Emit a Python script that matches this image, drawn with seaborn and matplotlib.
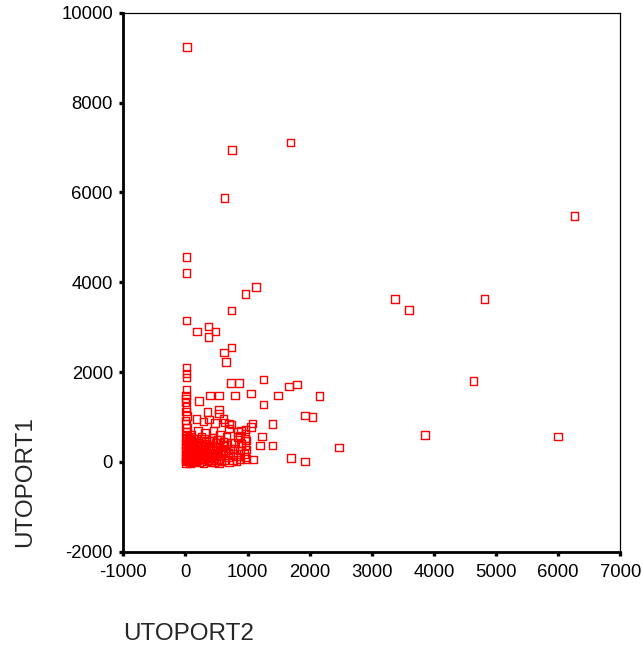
import matplotlib
matplotlib.use("Agg")
import matplotlib.pyplot as plt
import seaborn as sns
import pandas as pd

# UTOPORT2 (x) and UTOPORT1 (y) values, grouped by region of the scatter
x_far = [20, 1688, 744, 625, 6264, 3369, 3594, 4812, 4635, 2160, 3857, 2470, 5993]
y_far = [9240, 7110, 6940, 5875, 5474, 3620, 3375, 3620, 1795, 1470, 605, 323, 568]

x_mid = [13, 13, 1140, 969, 738, 13, 368, 190, 480, 368, 738, 620, 652]
y_mid = [4560, 4205, 3893, 3731, 3374, 3144, 3011, 2899, 2899, 2780, 2543, 2432, 2223]

x_upper = [13, 13, 13, 13, 733, 857, 1253, 1662, 1800, 395, 535, 797, 1055, 1485]
y_upper = [2098, 1965, 1880, 1608, 1755, 1755, 1831, 1675, 1719, 1474, 1474, 1474, 1519, 1474]

x_spread = [222, 1259, 535, 535, 357, 1924, 2042, 1404, 1082, 625, 738, 969, 1227, 1200,
            1398, 1694, 1924, 1087, 974, 974, 877, 877, 877, 963, 963, 963, 889, 889]
y_spread = [1354, 1274, 1163, 1073, 1109, 1036, 998, 842, 851, 873, 835, 724, 568, 361,
            361, 85, 11, 49, 479, 272, 590, 256, 49, 628, 368, 107, 702, 405]

x_zero = [5, 10, 0, 15, 5, 20, 0, 10, 25, 5, 15, 0, 20, 10, 5, 30, 0, 15, 10, 25, 5, 20, 0, 10]
y_zero = [1480, 1414, 1330, 1220, 1125, 1015, 925, 840, 760, 680, 600, 530, 460, 400, 340,
          290, 240, 190, 150, 110, 70, 40, 10, -20]

x_block = [60, 80, 100, 55, 90, 70, 110, 50, 95, 75, 120, 130, 65, 105, 85, 140, 150, 160,
           45, 125, 115, 70]
y_block = [500, 420, 350, 280, 210, 140, 80, 20, -10, 560, 300, 380, 170, 30, 600, 450, 220,
           60, 330, 110, 250, -30]

x_cluster = [180, 287, 383, 475, 610, 206, 314, 448, 556, 663, 850, 850, 958, 700, 1055, 700,
             200, 240, 280, 320, 360, 400, 440, 480, 520, 560, 600, 640, 680, 720, 760, 800,
             840, 900, 940, 980,
             250, 300, 350, 420, 470, 530, 580, 620, 700, 760, 820, 230, 270, 330, 380, 460,
             500, 550, 600, 650, 690, 740, 780,
             515, 450, 380, 300, 260, 560, 610, 170, 190, 215, 160, 290, 400, 540]
y_cluster = [960, 900, 940, 870, 960, 690, 640, 700, 600, 560, 664, 552, 517, 740, 775, 851,
             420, 350, 300, 400, 250, 330, 180, 420, 270, 150, 360, 220, 100, 300, 180, 420,
             120, 350, 170, 60,
             150, 60, 10, 40, 0, 70, 20, 30, -10, 40, 10, 200, 90, 160, 110, 260,
             130, 330, 240, 380, 200, 420, 290,
             490, 530, 470, 520, 560, 500, 450, 300, 110, 0, 20, -20, -10, -30]

x_dense = [35, 45, 60, 80, 100, 120, 150, 175, 205, 235, 265, 300, 335, 370, 410, 445,
           40, 70, 95, 130, 165, 195, 225, 255, 310, 345, 390, 430, 480, 525, 570,
           50, 85, 115, 145, 185, 245, 275, 360, 425, 495]
y_dense = [380, 190, 440, 30, 260, 510, 130, 420, 300, 50, 380, 230, 440, 30, 200, 90,
           90, 320, 470, 20, 250, 380, 120, 460, 350, 80, 270, 480, 190, 40, 260,
           540, 120, 420, 280, 30, 330, 220, 360, 130, 310]

x_ticks = [-1000, 0, 1000, 2000, 3000, 4000, 5000, 6000, 7000]
y_ticks = [-2000, 0, 2000, 4000, 6000, 8000, 10000]

df = pd.DataFrame({
    "UTOPORT2": x_far + x_mid + x_upper + x_spread + x_zero + x_block + x_cluster + x_dense,
    "UTOPORT1": y_far + y_mid + y_upper + y_spread + y_zero + y_block + y_cluster + y_dense,
})

sns.set_style("white")
plt.rcParams["font.family"] = ["Liberation Sans", "DejaVu Sans"]
plt.rcParams["axes.unicode_minus"] = False

fig = plt.figure(figsize=(6.43, 6.48), dpi=100)
ax = fig.add_axes([0.1919, 0.1486, 0.7727, 0.8318])

sns.scatterplot(data=df, x="UTOPORT2", y="UTOPORT1", ax=ax, marker="s", s=30,
                facecolor="none", edgecolor="#ff0000", linewidth=1.0)

ax.set_xlim(-1000, 7000)
ax.set_ylim(-2000, 10000)
ax.set_xticks(x_ticks)
ax.set_yticks(y_ticks)
ax.set_xticklabels([str(v) for v in x_ticks])
ax.set_yticklabels([str(v) for v in y_ticks])
ax.tick_params(axis="both", direction="out", length=3, width=2.4, color="black",
               labelsize=13.3, labelcolor="black", left=True, bottom=True)
ax.tick_params(axis="y", pad=4.5)
ax.tick_params(axis="x", pad=6)

for side in ["left", "bottom"]:
    ax.spines[side].set_linewidth(2.0)
    ax.spines[side].set_color("black")
for side in ["top", "right"]:
    ax.spines[side].set_linewidth(0.9)
    ax.spines[side].set_color("black")

ax.set_xlabel("UTOPORT2", fontsize=17.5, ha="left", va="center")
ax.xaxis.set_label_coords(0.0, -0.152)
ax.set_ylabel("UTOPORT1", fontsize=17.5, ha="center", va="center")
ax.yaxis.set_label_coords(-0.197, 0.13)

fig.savefig("out.png", dpi=100)
